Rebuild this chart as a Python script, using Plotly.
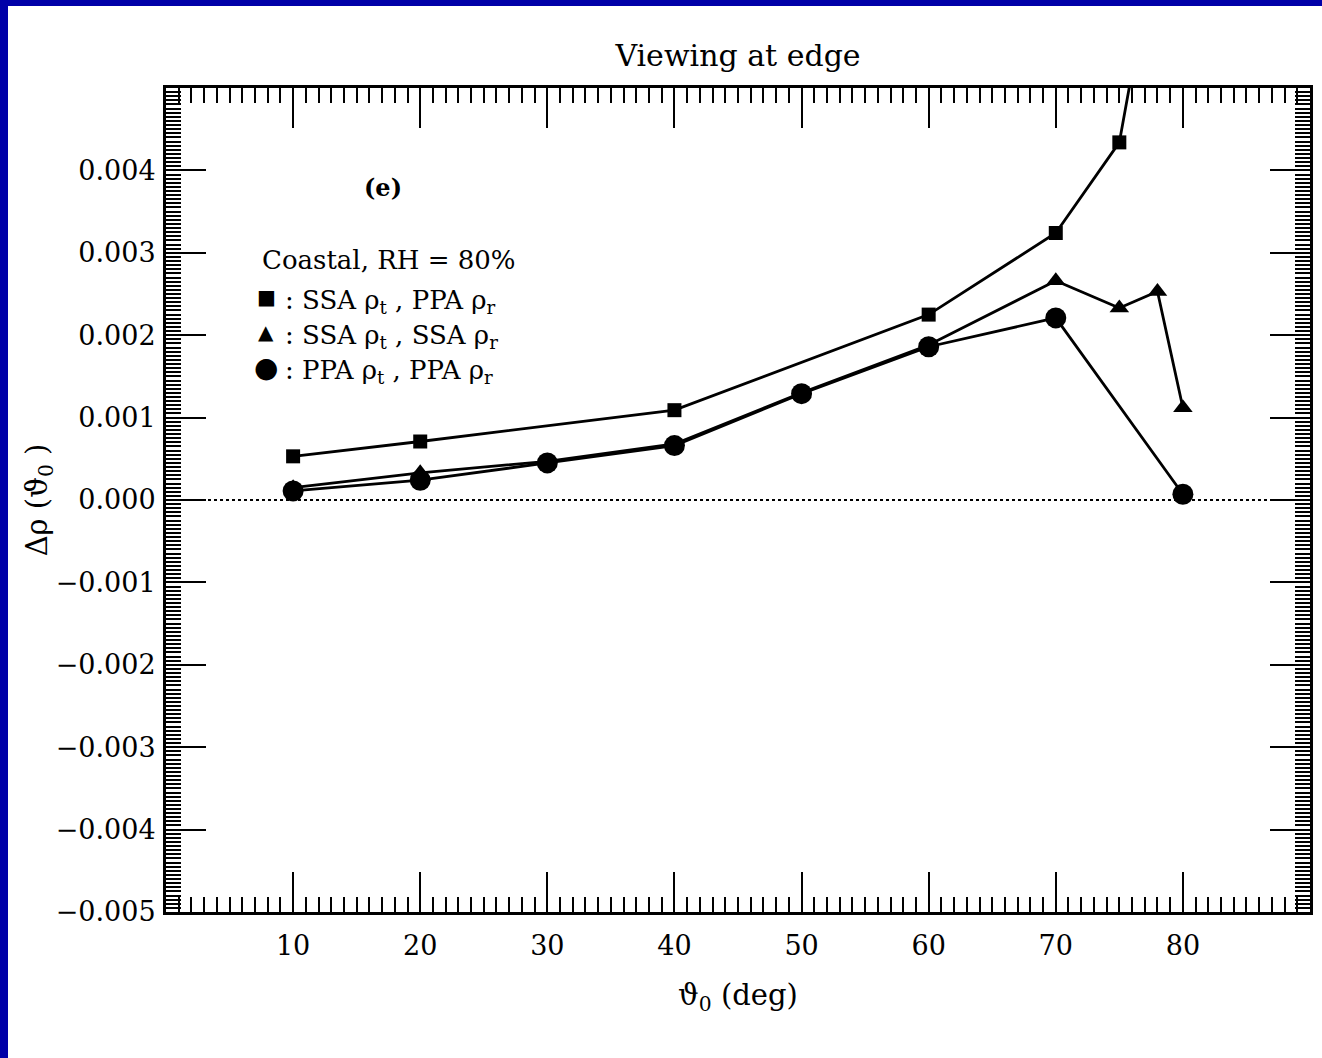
import plotly.graph_objects as go

# ---- data ----
x_sq = [10, 20, 40, 60, 70, 75, 80]
y_sq = [0.00053, 0.00071, 0.00109, 0.00225, 0.00324, 0.00434, 0.0086]

x_tri = [10, 20, 30, 40, 50, 60, 70, 75, 78, 80]
y_tri = [0.00015, 0.00033, 0.00047, 0.00068, 0.0013, 0.00188, 0.00266, 0.00233, 0.00253, 0.00112]

x_cir = [10, 20, 30, 40, 50, 60, 70, 80]
y_cir = [0.00011, 0.00024, 0.00045, 0.00066, 0.00129, 0.00186, 0.00221, 0.00007]

x_ticks = [10, 20, 30, 40, 50, 60, 70, 80]
y_ticks = [-0.005, -0.004, -0.003, -0.002, -0.001, 0.0, 0.001, 0.002, 0.003, 0.004]
y_tick_text = ["\u22120.005", "\u22120.004", "\u22120.003", "\u22120.002", "\u22120.001",
               "0.000", "0.001", "0.002", "0.003", "0.004"]

FONT = "DejaVu Serif"
W, H = 1322, 1058
L, R, T, B = 166, 12, 88, 146
pw, ph = W - L - R, H - T - B


def px(xp):
    return (xp - L) / pw


def py(yp):
    return (H - B - yp) / ph


fig = go.Figure()
line = dict(color="black", width=2.8)
fig.add_trace(go.Scatter(x=x_sq, y=y_sq, mode="lines+markers", line=line,
                         marker=dict(symbol="square", size=14, color="black"),
                         name="SSA ρt, PPA ρr", showlegend=False))
fig.add_trace(go.Scatter(x=x_tri, y=y_tri, mode="lines+markers", line=line,
                         marker=dict(symbol="triangle-up", size=17, color="black"),
                         name="SSA ρt, SSA ρr", showlegend=False))
fig.add_trace(go.Scatter(x=x_cir, y=y_cir, mode="lines+markers", line=line,
                         marker=dict(symbol="circle", size=21, color="black"),
                         name="PPA ρt, PPA ρr", showlegend=False))

# dotted zero line
fig.add_shape(type="line", xref="paper", x0=0, x1=1, yref="y", y0=0, y1=0,
              line=dict(color="black", width=1.8, dash="dot"), layer="below")

# blue frame bands (left and top)
blue = "#0000A8"
fig.add_shape(type="rect", xref="paper", yref="paper", x0=px(0), x1=px(8), y0=py(H), y1=py(0),
              fillcolor=blue, line=dict(width=0), layer="above")
fig.add_shape(type="rect", xref="paper", yref="paper", x0=px(0), x1=px(W), y0=py(6), y1=py(0),
              fillcolor=blue, line=dict(width=0), layer="above")

ann_font = dict(family=FONT, size=26, color="black")
fig.add_annotation(text="<b>(e)</b>", xref="paper", yref="paper", x=px(383), y=py(188),
                   xanchor="center", yanchor="middle",
                   showarrow=False, font=dict(family=FONT, size=24, color="black"))
fig.add_annotation(text="Coastal, RH = 80%", xref="paper", yref="paper", x=px(260), y=py(260),
                   xanchor="left", yanchor="middle", showarrow=False, font=ann_font)
rows = [("\u25A0", ": SSA ρ<sub>t</sub> , PPA ρ<sub>r</sub>", 297, 20),
        ("\u25B2", ": SSA ρ<sub>t</sub> , SSA ρ<sub>r</sub>", 332, 20),
        ("\u25CF", ": PPA ρ<sub>t</sub> , PPA ρ<sub>r</sub>", 368, 28)]
for sym, txt, yy, ss in rows:
    fig.add_annotation(text=sym, xref="paper", yref="paper", x=px(266), y=py(yy),
                       xanchor="center", yanchor="middle",
                       showarrow=False, font=dict(family=FONT, size=ss, color="black"))
    fig.add_annotation(text=txt, xref="paper", yref="paper", x=px(283), y=py(yy + 4),
                       xanchor="left", yanchor="middle", showarrow=False, font=ann_font)

axis_common = dict(showline=True, linecolor="black", linewidth=3, mirror="allticks",
                   ticks="inside", ticklen=40, tickwidth=2.2, tickcolor="black",
                   showgrid=False, zeroline=False,
                   tickfont=dict(family=FONT, size=27, color="black"))

fig.update_xaxes(range=[0, 90], tickmode="array", tickvals=x_ticks,
                 minor=dict(dtick=1, tick0=0, ticks="inside", ticklen=15, tickwidth=2, tickcolor="black"),
                 ticklabelstandoff=8,
                 title=dict(text="ϑ<sub>0</sub> (deg)", font=dict(family=FONT, size=29, color="black"),
                            standoff=25),
                 **axis_common)
fig.update_yaxes(range=[-0.005, 0.005], tickmode="array", tickvals=y_ticks, ticktext=y_tick_text,
                 minor=dict(dtick=0.00005, tick0=0, ticks="inside", ticklen=15, tickwidth=2, tickcolor="black"),
                 ticklabelstandoff=2,
                 title=dict(text="Δρ (ϑ<sub>0</sub> )", font=dict(family=FONT, size=29, color="black"),
                            standoff=0),
                 **axis_common)

fig.update_layout(
    width=W, height=H,
    margin=dict(l=L, r=R, t=T, b=B, autoexpand=False),
    paper_bgcolor="white", plot_bgcolor="white",
    title=dict(text="Viewing at edge", x=0.5, xref="paper", xanchor="center",
               y=1 - 55 / H, yanchor="middle",
               font=dict(family=FONT, size=30, color="black")),
    showlegend=False,
)

fig.write_html("out.html", config={"displayModeBar": False},
               post_script="document.body.style.margin='0';document.body.style.overflow='hidden';")
